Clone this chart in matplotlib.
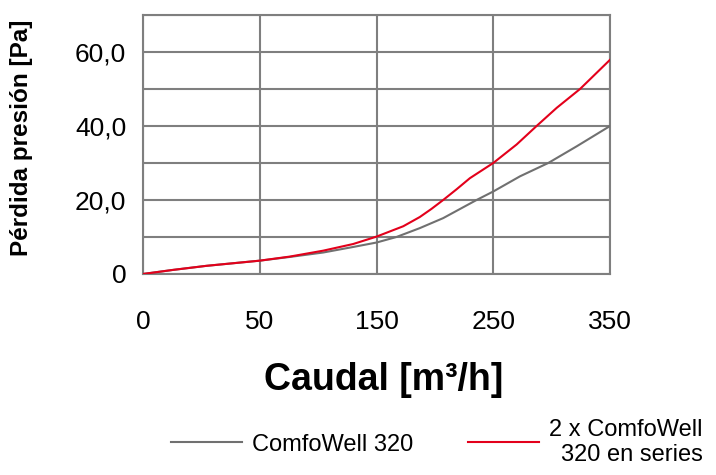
import matplotlib.pyplot as plt
from matplotlib.lines import Line2D

plt.rcParams['font.family'] = ['Liberation Sans', 'DejaVu Sans']

# x positions are the equally spaced tick slots; labels as printed on the chart
tick_pos = [0, 1, 2, 3, 4]
tick_labels = ['0', '50', '150', '250', '350']
ytick_vals = [0, 20, 40, 60]
ytick_labels = ['0', '20,0', '40,0', '60,0']

gray_x = [0, 0.257, 0.543, 1, 1.257, 1.543, 1.8, 2, 2.171, 2.371, 2.571,
          2.857, 3, 3.229, 3.471, 3.714, 4]
gray_y = [0, 1.1, 2.2, 3.6, 4.6, 5.8, 7.3, 8.5, 10.0, 12.4, 15.1,
          20.0, 22.3, 26.4, 30.0, 34.5, 40.0]

red_x = [0, 0.257, 0.543, 1, 1.257, 1.543, 1.8, 2, 2.229, 2.371, 2.471, 2.571,
         2.686, 2.8, 3, 3.2, 3.371, 3.543, 3.743, 4]
red_y = [0, 1.1, 2.2, 3.6, 4.7, 6.3, 8.1, 10.1, 12.9, 15.4, 17.6, 20.0,
         22.9, 25.9, 30.0, 35.0, 40.0, 44.9, 50.0, 57.9]

gray_c = '#707070'
red_c = '#e3001b'
grid_c = '#7f7f7f'

fig = plt.figure(figsize=(7.16, 4.75), dpi=100)
ax = fig.add_axes([0.1997, 0.4232, 0.6523, 0.5452])

ax.plot(gray_x, gray_y, color=gray_c, lw=1.5, zorder=3)
ax.plot(red_x, red_y, color=red_c, lw=1.5, zorder=4)

ax.set_xlim(0, 4)
ax.set_ylim(0, 70)
ax.set_xticks(tick_pos)
ax.set_xticklabels(tick_labels)
ax.set_yticks(ytick_vals)
ax.set_yticklabels(ytick_labels)
ax.set_yticks(range(10, 71, 20), minor=True)
ax.tick_params(axis='both', which='both', length=0, labelsize=19)
ax.tick_params(axis='x', pad=26)
ax.tick_params(axis='y', pad=12)

ax.grid(True, which='both', color=grid_c, lw=1.5)
ax.set_axisbelow(True)
for s in ax.spines.values():
    s.set_color(grid_c)
    s.set_linewidth(1.5)

ax.set_xlabel('Caudal [m³/h]', fontsize=27, fontweight='bold', labelpad=20)
ax.xaxis.label.set_x(0.515)
fig.text(0.030, 0.71, 'Pérdida presión [Pa]', rotation=90, fontsize=17.5,
         fontweight='bold', ha='center', va='center')

handles = [Line2D([], [], color=gray_c, lw=1.5),
           Line2D([], [], color=red_c, lw=1.5)]
leg = fig.legend(handles, ['ComfoWell 320', '2 x ComfoWell\n320 en series'],
                 loc='center', bbox_to_anchor=(0.610, 0.069), ncol=2, frameon=False,
                 fontsize=17, handlelength=3.0, handletextpad=0.45, columnspacing=2.3,
                 labelspacing=0.1, borderaxespad=0, borderpad=0)
leg.get_texts()[1].set_multialignment('right')

fig.savefig('out.png', dpi=100)
